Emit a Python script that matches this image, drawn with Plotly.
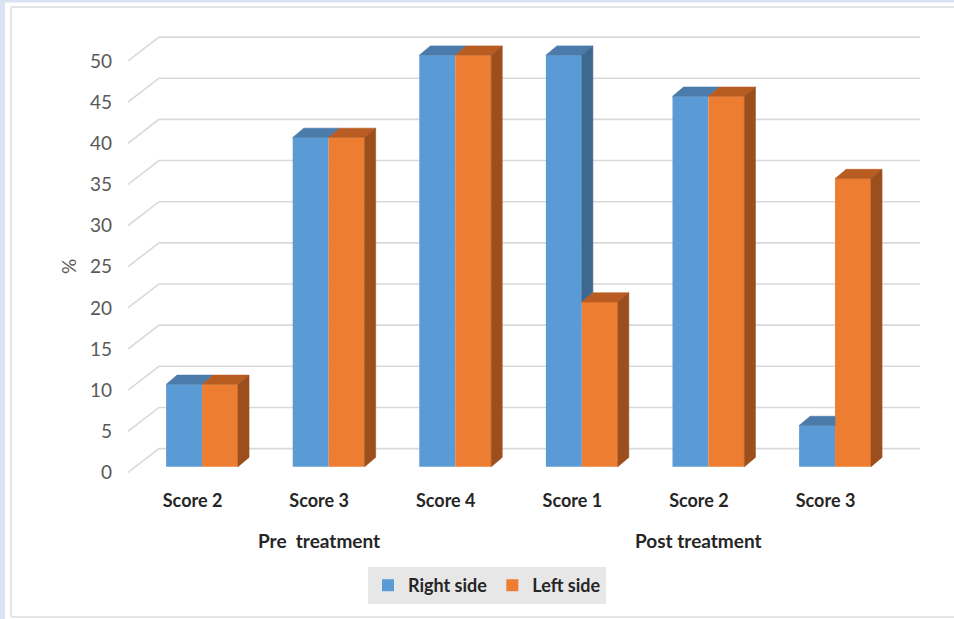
import plotly.graph_objects as go

# ---- data -------------------------------------------------------------
categories = ["Score 2", "Score 3", "Score 4", "Score 1", "Score 2", "Score 3"]
group_names = ["Pre\u00a0 treatment", "Post treatment"]
group_spans = [(0, 2), (3, 5)]          # first / last category index of each group
right_side = [10, 40, 50, 50, 45, 5]
left_side = [10, 40, 50, 20, 45, 35]
y_ticks = [0, 5, 10, 15, 20, 25, 30, 35, 40, 45, 50]

# ---- styling ----------------------------------------------------------
BLUE, BLUE_TOP, BLUE_SIDE = "#5b9bd5", "#4a7bab", "#3d6890"
ORANGE, ORANGE_TOP, ORANGE_SIDE = "#ed7d31", "#b85c22", "#9c4f1d"
GRID = "#d9d9d9"
FONT = "Lato"

W = 0.284        # width of one bar (category units)
DX, DY = 0.087, 1.13   # depth of the 3-D extrusion (x units, % units)
FRONT = -0.7     # floor offset of the front edge of the walls
BACK = 2.2       # floor offset of the back wall
X_MIN, X_MAX = -0.585, 5.671
WALL_X = -0.34   # where the side wall meets the back wall
Y_MIN, Y_MAX = -1.616, 53.06

# figure geometry (pixels)
FIG_W, FIG_H = 954, 619
M_L, M_R, M_T, M_B = 128, 34, 30, 139
PW, PH = FIG_W - M_L - M_R, FIG_H - M_T - M_B


def px(x):
    return (x - M_L) / PW


def py(y):
    return (FIG_H - M_B - y) / PH


fig = go.Figure()

# front faces of the columns
idx = list(range(len(categories)))
fig.add_trace(go.Bar(x=idx, y=right_side, width=W, offset=-W, name="Right side",
                     marker=dict(color=BLUE, line=dict(width=0)), hoverinfo="y"))
fig.add_trace(go.Bar(x=idx, y=left_side, width=W, offset=0, name="Left side",
                     marker=dict(color=ORANGE, line=dict(width=0)), hoverinfo="y"))


def face(xs, ys, color):
    fig.add_trace(go.Scatter(x=xs + [xs[0]], y=ys + [ys[0]], mode="lines",
                             fill="toself", fillcolor=color,
                             line=dict(color=color, width=0.6),
                             hoverinfo="skip", showlegend=False))


# top and side faces of the columns
for i, (r, l) in enumerate(zip(right_side, left_side)):
    x0, xm, x1 = i - W, i, i + W
    # right-side (blue) column: top face, clipped by a taller neighbour
    if l > r:
        face([x0, xm, xm, x0 + DX], [r, r, r + DY, r + DY], BLUE_TOP)
    else:
        face([x0, xm, xm + DX, x0 + DX], [r, r, r + DY, r + DY], BLUE_TOP)
        if r > l:
            face([xm, xm + DX, xm + DX, xm], [r, r + DY, l + DY, l], BLUE_SIDE)
    # left-side (orange) column
    face([xm, x1, x1 + DX, xm + DX], [l, l, l + DY, l + DY], ORANGE_TOP)
    face([x1, x1 + DX, x1 + DX, x1], [l, l + DY, DY, 0], ORANGE_SIDE)

# perspective gridlines: side-wall diagonal + back-wall line
shapes = []
for v in y_ticks:
    shapes.append(dict(type="path", xref="x", yref="y", layer="below",
                       path=f"M{X_MIN},{v + FRONT} L{WALL_X},{v + BACK} L{X_MAX},{v + BACK}",
                       line=dict(color=GRID, width=1.6)))

# page frame
shapes += [
    dict(type="rect", xref="paper", yref="paper", layer="above",
         x0=px(0), x1=px(5), y0=py(FIG_H), y1=py(0), fillcolor="#dae3f3", line=dict(width=0)),
    dict(type="rect", xref="paper", yref="paper", layer="above",
         x0=px(0), x1=px(FIG_W), y0=py(2.5), y1=py(0), fillcolor="#dae3f3", line=dict(width=0)),
    dict(type="line", xref="paper", yref="paper", layer="above",
         x0=px(11), x1=px(11), y0=py(7), y1=py(617), line=dict(color="#dcdcdc", width=1.5)),
    dict(type="line", xref="paper", yref="paper", layer="above",
         x0=px(11), x1=px(FIG_W), y0=py(7), y1=py(7), line=dict(color="#dcdcdc", width=1.5)),
    dict(type="line", xref="paper", yref="paper", layer="above",
         x0=px(11), x1=px(FIG_W), y0=py(617), y1=py(617), line=dict(color="#dcdcdc", width=1.5)),
]

annotations = [
    dict(text="%", textangle=-90, xref="paper", yref="paper", x=px(68), y=py(267),
         xanchor="center", yanchor="middle",
         showarrow=False, font=dict(family=FONT, size=19, color="#595959")),
]
for name, (a, b) in zip(group_names, group_spans):
    annotations.append(dict(text=name, xref="x", yref="paper", x=(a + b) / 2 - 0.08, y=py(540),
                            showarrow=False, xanchor="center", yanchor="middle",
                            font=dict(family=FONT, size=19, color="#262626", weight="bold")))

fig.update_layout(
    width=FIG_W, height=FIG_H,
    margin=dict(l=M_L, r=M_R, t=M_T, b=M_B),
    paper_bgcolor="white", plot_bgcolor="white",
    barmode="overlay",
    font=dict(family=FONT, color="#595959"),
    shapes=shapes, annotations=annotations,
    showlegend=True,
    legend=dict(orientation="h", x=px(487), xanchor="center", y=py(567), yanchor="top",
                bgcolor="#e7e7e7", traceorder="normal", itemwidth=30,
                font=dict(family=FONT, size=18, color="#262626", weight="bold")),
    xaxis=dict(range=[X_MIN, X_MAX], showgrid=False, zeroline=False, showline=False,
               tickmode="array", tickvals=[i - 0.075 for i in idx], ticktext=categories,
               ticks="", ticklabelstandoff=8,
               tickfont=dict(family=FONT, size=18, color="#262626", weight="bold")),
    yaxis=dict(range=[Y_MIN, Y_MAX], showgrid=False, zeroline=False, showline=False,
               tickmode="array", tickvals=[v + FRONT for v in y_ticks],
               ticktext=[str(v) for v in y_ticks], ticks="", ticklabelstandoff=15,
               tickfont=dict(family=FONT, size=19, color="#595959")),
)

fig.write_html("out.html")
